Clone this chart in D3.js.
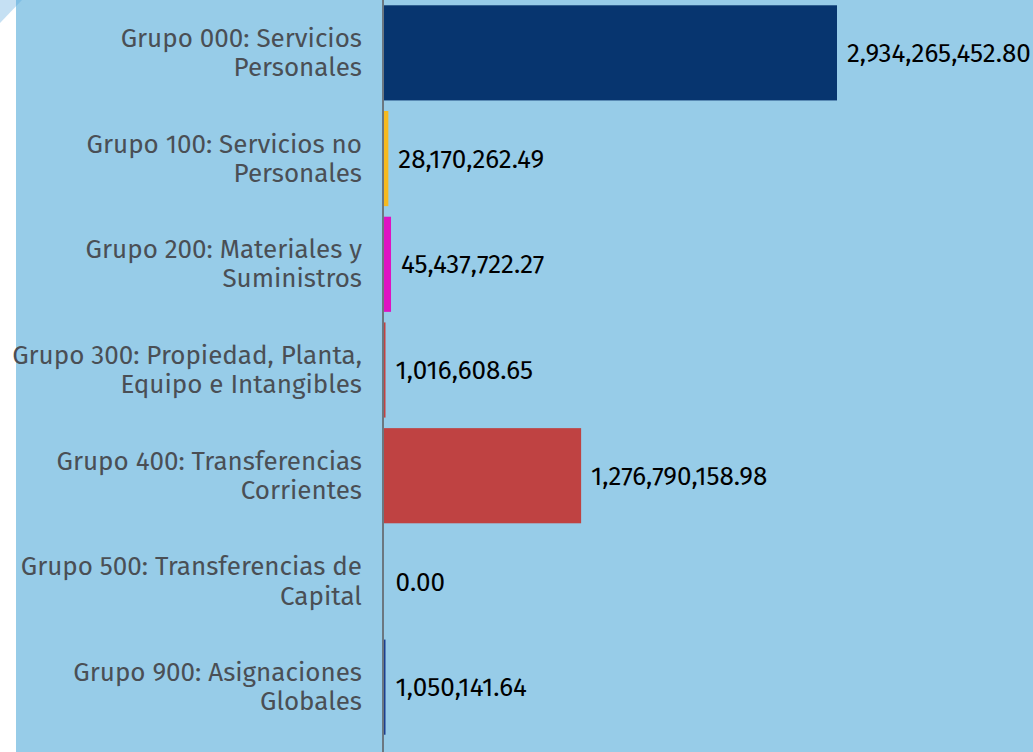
<!DOCTYPE html>
<html>
<head>
<meta charset="utf-8">
<script src="https://cdn.jsdelivr.net/npm/d3@7"></script>
<style>
  body { margin: 0; background: #ffffff; }
  #chart svg { display: block; }
</style>
</head>
<body>
<div id="chart"></div>
<script>
// Data
const categories = [
    "Grupo 000: Servicios Personales",
    "Grupo 100: Servicios no Personales",
    "Grupo 200: Materiales y Suministros",
    "Grupo 300: Propiedad, Planta, Equipo e Intangibles",
    "Grupo 400: Transferencias Corrientes",
    "Grupo 500: Transferencias de Capital",
    "Grupo 900: Asignaciones Globales"
];
const labelLines = [
    ["Grupo 000: Servicios", "Personales"],
    ["Grupo 100: Servicios no", "Personales"],
    ["Grupo 200: Materiales y", "Suministros"],
    ["Grupo 300: Propiedad, Planta,", "Equipo e Intangibles"],
    ["Grupo 400: Transferencias", "Corrientes"],
    ["Grupo 500: Transferencias de", "Capital"],
    ["Grupo 900: Asignaciones", "Globales"]
];
const values = [2934265452.80, 28170262.49, 45437722.27, 1016608.65, 1276790158.98, 0.00, 1050141.64];
const colors = ["#07356f", "#f6b91e", "#de12c2", "#c44141", "#bf4242", "#bf4242", "#1c3f8f"];

function draw() {
    let dimensions = {
        width: 1033,
        height: 752,
        margin: { top: 0, right: 0, bottom: 12, left: 384 }
    };

    const svg = d3.select("#chart")
        .append("svg")
        .attr("width", dimensions.width)
        .attr("height", dimensions.height);

    // background panel
    svg.append("rect")
        .attr("x", 16)
        .attr("y", 0)
        .attr("width", dimensions.width - 16)
        .attr("height", dimensions.height)
        .attr("fill", "#97cce8");

    // little corner decoration
    svg.append("polygon")
        .attr("points", "0,0 22,0 0,23")
        .attr("fill", "rgba(90,165,220,0.35)");

    // Scales
    const yScale = d3.scaleBand()
        .domain(categories)
        .range([dimensions.margin.top, dimensions.height - dimensions.margin.bottom])
        .paddingInner(0.1)
        .paddingOuter(0.05);

    const xScale = d3.scaleLinear()
        .domain([0, 2934265452.80])
        .range([dimensions.margin.left, 837]);

    // Bars
    svg.selectAll("rect.bar")
        .data(values)
        .join("rect")
            .attr("class", "bar")
            .attr("x", xScale(0))
            .attr("y", (d, i) => yScale(categories[i]))
            .attr("height", yScale.bandwidth())
            .attr("width", d => d > 0 ? Math.max(xScale(d) - xScale(0), 1.5) : 0)
            .attr("fill", (d, i) => colors[i]);

    // Value labels
    const formatter = d3.format(",.2f");
    svg.selectAll("text.value")
        .data(values)
        .join("text")
            .attr("class", "value")
            .attr("x", d => Math.max(xScale(d), xScale(0) + 1.5) + 10)
            .attr("y", (d, i) => yScale(categories[i]) + yScale.bandwidth() / 2)
            .attr("dy", "0.35em")
            .attr("fill", "#000")
            .style("font-family", "'Fira Sans', 'Open Sans', sans-serif")
            .style("font-size", "26px")
            .text(d => formatter(d));

    // Axis
    const yAxis = d3.axisLeft(yScale).tickSize(0).tickFormat("");
    const yAxisGroup = svg.append("g")
        .attr("transform", `translate(${xScale(0) - 1}, 0)`)
        .call(yAxis);
    yAxisGroup.select(".domain").remove();
    yAxisGroup.append("line")
        .attr("x1", 0).attr("x2", 0)
        .attr("y1", 0).attr("y2", dimensions.height)
        .attr("stroke", "#6b7780")
        .attr("stroke-width", 2);

    // Category labels (two lines, right aligned)
    const catLabels = svg.selectAll("text.cat")
        .data(categories)
        .join("text")
            .attr("class", "cat")
            .attr("text-anchor", "end")
            .attr("fill", "#4a4f55")
            .style("font-family", "'Fira Sans', 'Open Sans', sans-serif")
            .style("font-size", "26px")
            .attr("y", d => yScale(d) + yScale.bandwidth() / 2);

    catLabels.selectAll("tspan")
        .data((d, i) => labelLines[i])
        .join("tspan")
            .attr("x", 362)
            .attr("dy", (d, i) => i === 0 ? "-0.23em" : "1.12em")
            .text(d => d);
}

draw();
</script>
</body>
</html>
